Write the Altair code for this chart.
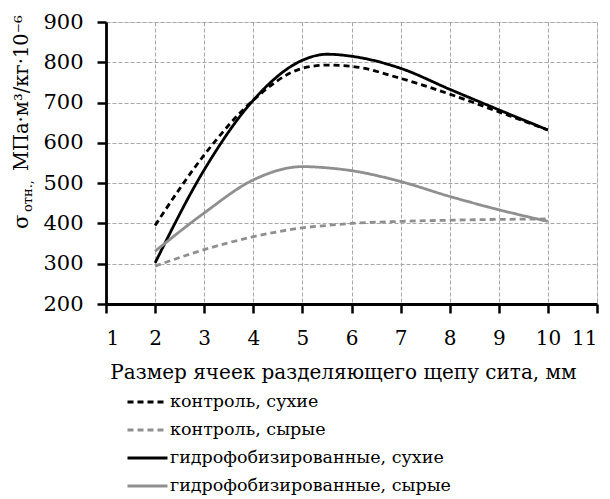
import altair as alt
import pandas as pd

x_vals = [2, 3, 4, 5, 5.5, 6, 7, 8, 9, 10]
control_dry = [395, 570, 706, 785, 793, 790, 760, 721, 677, 632]
control_wet = [294, 335, 367, 389, 395, 400, 405, 408, 410, 411]
hydro_dry = [302, 533, 706, 805, 820, 815, 785, 733, 682, 632]
hydro_wet = [331, 426, 508, 541, 538, 531, 504, 467, 434, 405]

series_names = ["контроль, сухие", "контроль, сырые",
                "гидрофобизированные, сухие", "гидрофобизированные, сырые"]
series_values = [control_dry, control_wet, hydro_dry, hydro_wet]
series_colors = ["#000000", "#8f8f8f", "#000000", "#8f8f8f"]
series_dash = [[6, 4], [6, 4], [1, 0], [1, 0]]

x_ticks = list(range(1, 12))
y_ticks = list(range(200, 1000, 100))
x_title = "Размер ячеек разделяющего щепу сита, мм"
y_title_parts = ["σ", "отн.,", "МПа·м³/кг·10⁻⁶"]

rows = []
for name, vals in zip(series_names, series_values):
    for xv, yv in zip(x_vals, vals):
        rows.append({"x": xv, "y": yv, "series": name})
df = pd.DataFrame(rows)

FONT = "DejaVu Serif"

legend = alt.Legend(
    title=None, orient="none", legendX=20, legendY=366, direction="vertical",
    symbolType="stroke", symbolSize=1600, symbolStrokeWidth=2.8,
    labelFont=FONT, labelFontSize=17.5, labelColor="#000", labelOffset=1,
    labelLimit=400, rowPadding=0, clipHeight=28, padding=0, symbolOffset=0,
)

lines = alt.Chart(df).mark_line(interpolate="monotone", strokeWidth=2.8).encode(
    x=alt.X("x:Q", scale=alt.Scale(domain=[1, 11], nice=False),
            axis=alt.Axis(values=x_ticks, title=x_title, format="d",
                          titleFont=FONT, titleFontSize=20, titleFontWeight="normal",
                          titleColor="#000", titlePadding=14, titleX=237,
                          labelFont=FONT, labelFontSize=20, labelColor="#000",
                          labelPadding=15, tickSize=9, tickWidth=2.5, tickColor="#000",
                          domainColor="#000", domainWidth=2.8,
                          grid=True, gridColor="#a8a8a8", gridDash=[4, 2], gridWidth=1)),
    y=alt.Y("y:Q", scale=alt.Scale(domain=[200, 900], nice=False),
            axis=alt.Axis(values=y_ticks, title=None,
                          labelFont=FONT, labelFontSize=21, labelColor="#000",
                          labelPadding=14, tickSize=9, tickWidth=2.5, tickColor="#000",
                          domainColor="#000", domainWidth=2.8,
                          grid=True, gridColor="#a8a8a8", gridDash=[4, 2], gridWidth=1)),
    color=alt.Color("series:N", scale=alt.Scale(domain=series_names, range=series_colors),
                    legend=legend),
    strokeDash=alt.StrokeDash("series:N", scale=alt.Scale(domain=series_names, range=series_dash),
                              legend=legend),
    order=alt.Order("x:Q"),
)

t1 = alt.Chart(pd.DataFrame({"t": [y_title_parts[0]]})).mark_text(
    font=FONT, fontSize=21, angle=270, align="left", baseline="middle", color="#000"
).encode(text="t:N", x=alt.value(-84), y=alt.value(207))
t2 = alt.Chart(pd.DataFrame({"t": [y_title_parts[1]]})).mark_text(
    font=FONT, fontSize=13, angle=270, align="left", baseline="middle", color="#000"
).encode(text="t:N", x=alt.value(-78), y=alt.value(190))
t3 = alt.Chart(pd.DataFrame({"t": [y_title_parts[2]]})).mark_text(
    font=FONT, fontSize=19.5, angle=270, align="left", baseline="middle", color="#000"
).encode(text="t:N", x=alt.value(-84), y=alt.value(149))

chart = alt.layer(lines, t1, t2, t3).properties(
    width=491, height=282,
    autosize=alt.AutoSizeParams(type="none"),
    padding={"left": 98, "top": 14, "right": 5, "bottom": 194},
).configure_view(stroke=None).configure(background="#ffffff")

chart.save("out.html", embed_options={"renderer": "svg", "actions": False})
